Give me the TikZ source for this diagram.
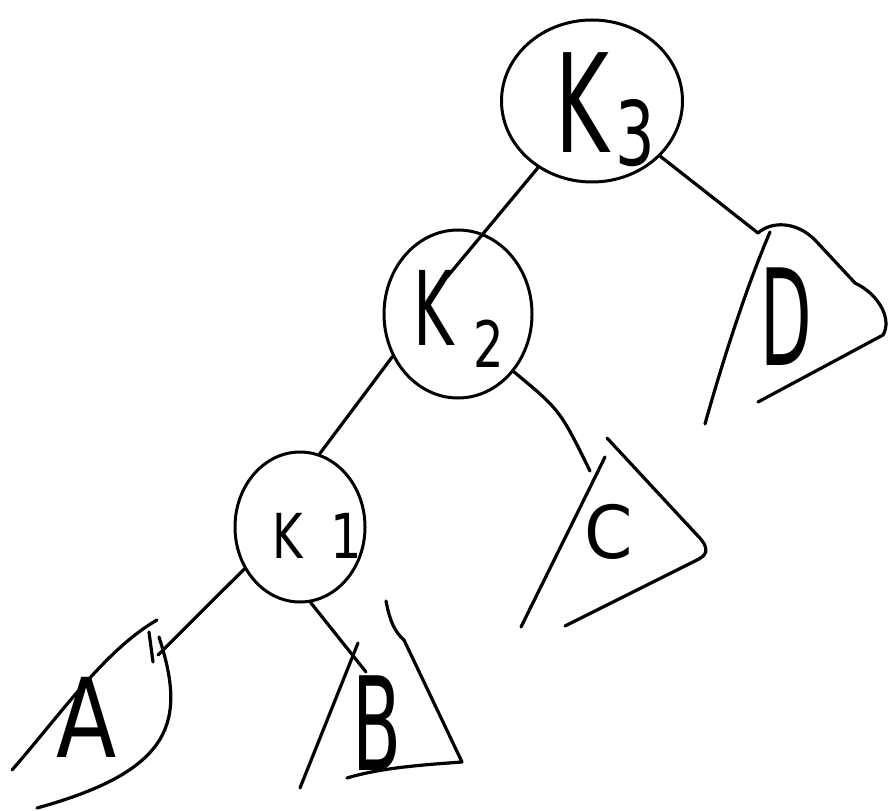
\documentclass[tikz,border=0pt]{standalone}
\usepackage{fontspec}
\newfontfamily\hand{DejaVu Sans}
\usetikzlibrary{shapes.geometric,calc}
\newcommand\hwtext[3]{\scalebox{#2}[1]{\fontsize{#1}{#1}\selectfont\hand #3}}
\begin{document}
\begin{tikzpicture}[x=1pt,y=-1pt,
  ink/.style={line width=3.2pt, line cap=round, line join=round},
  knode/.style={ellipse, draw, line width=3pt, inner sep=0pt},
  lbl/.style={anchor=base, inner sep=0pt},
  lblw/.style={anchor=base west, inner sep=0pt}]
\useasboundingbox (0,0) rectangle (890,810);
% key nodes
\node[knode, minimum width=181pt, minimum height=162pt] (k3) at (592,101) {};
\node[knode, minimum width=148pt, minimum height=168pt] (k2) at (458,314) {};
\node[knode, minimum width=130pt, minimum height=150pt] (k1) at (300,527) {};
% subtree apexes
\coordinate (dtop) at (758,233);
\coordinate (ctop) at (590,471);
\coordinate (atop) at (158,655);
\coordinate (btop) at (366,672);
% connectors
\draw[ink] (k3.231) -- ($(k2.center)+(-11,-37)$);
\draw[ink] (k3.321) -- (dtop);
\draw[ink] (k2.213) -- (k1.75);
\draw[ink] (k2.314) .. controls (560,410) .. (ctop);
\draw[ink] (k1.217) -- (atop);
\draw[ink] (k1.278) -- (btop);
% subtree A
\draw[ink] (12,770) .. controls (60,715) and (105,650) .. (157,620);
\draw[ink] (159,637) .. controls (186,720) and (175,770) .. (37,808);
\draw[ink] (149,632) -- (153,662);
% subtree B
\draw[ink] (300,788) -- (358,643);
\draw[ink] (386,601) .. controls (390,622) and (395,632) .. (404,640) -- (462,762) .. controls (420,765) and (380,768) .. (347,778);
% subtree C
\draw[ink] (521,627) -- (605,457);
\draw[ink] (607,438) -- (697,535) .. controls (712,550) and (706,556) .. (695,561) -- (565,626);
% subtree D
\draw[ink] (705,424) .. controls (720,370) and (745,290) .. (770,232);
\draw[ink] (dtop) .. controls (770,222) and (795,220) .. (815,240) -- (855,283) .. controls (880,295) and (892,320) .. (883,335) -- (758,402);
% labels
\node[lblw] (lk3) at (555,153) {\hwtext{137}{0.6}{K}\kern6pt\raisebox{-13pt}{\hwtext{89}{0.7}{3}}};
\node[lblw] (lk2) at (413,345) {\hwtext{103}{0.6}{K}\kern20pt\raisebox{-22pt}{\hwtext{64}{0.75}{2}}};
\node[lblw] (lk1) at (272,558) {\hwtext{62}{0.75}{K}\kern28pt\hwtext{62}{0.8}{1}};
\node[lbl] (la) at (87,757) {\hwtext{110}{0.8}{A}};
\node[lbl] (lb) at (377,770) {\hwtext{130}{0.55}{B}};
\node[lbl] (lc) at (609,558) {\hwtext{73}{0.95}{C}};
\node[lbl] (ld) at (786,365) {\hwtext{134}{0.5}{D}};
\end{tikzpicture}
\end{document}
